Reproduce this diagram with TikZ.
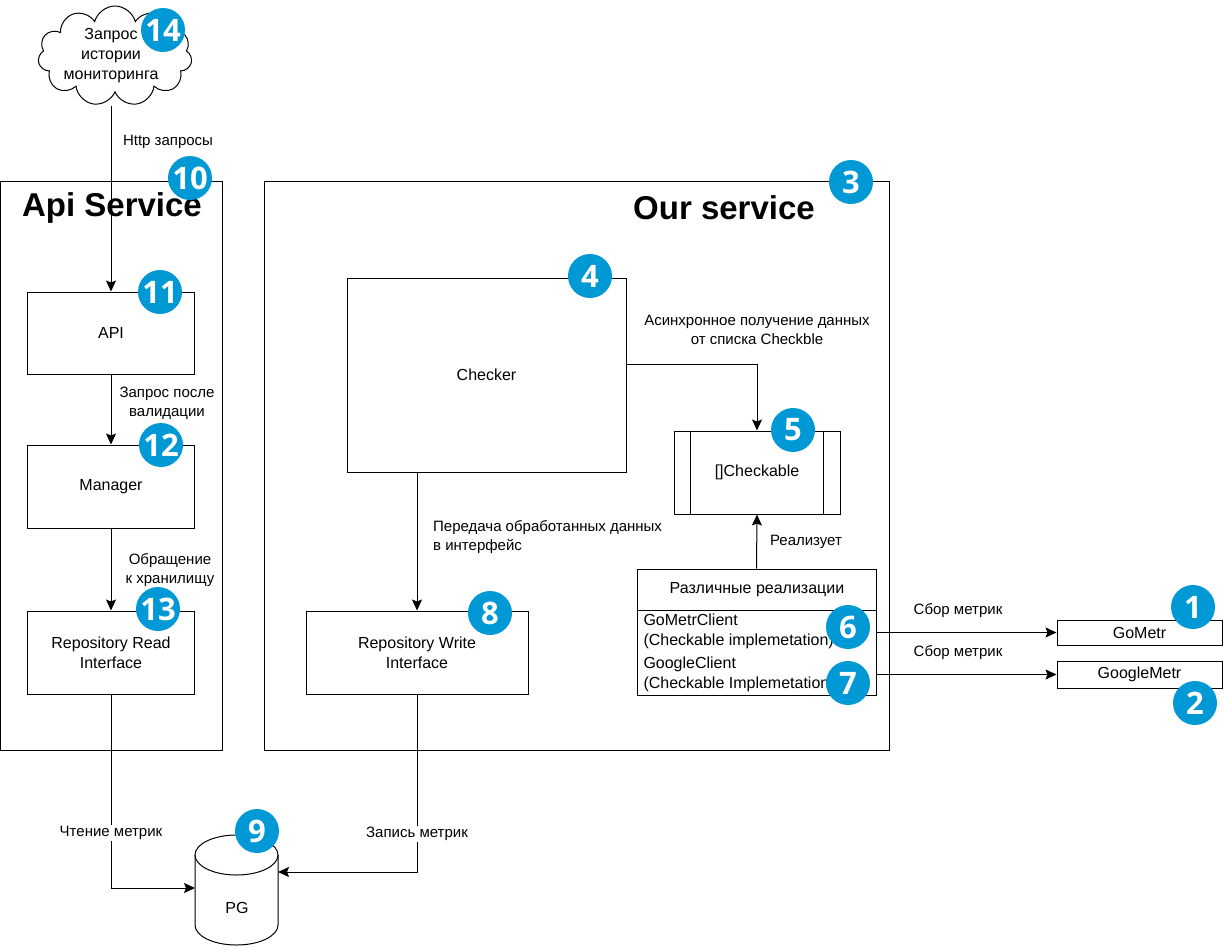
\documentclass[tikz,border=0pt]{standalone}
\usepackage{fontspec}
\setmainfont{Liberation Sans}
\newfontfamily\badgefont{Open Sans}
\usetikzlibrary{arrows.meta,shapes.symbols}
\definecolor{badgeblue}{RGB}{0,153,214}
\tikzset{
  box/.style={rectangle,draw,line width=1pt,inner sep=0pt,align=center,font=\fontsize{16}{20}\selectfont},
  title/.style={font=\bfseries\fontsize{33}{36}\selectfont},
  lbl/.style={align=center,inner sep=1pt,font=\fontsize{15}{19}\selectfont},
  onlbl/.style={lbl,fill=white},
  badge/.style={circle,fill=badgeblue,text=white,minimum size=44pt,inner sep=0pt,font=\badgefont\bfseries\fontsize{31}{31}\selectfont},
  flow/.style={line width=1pt,-{Stealth[length=11pt,width=10pt,inset=2pt]}},
}
\begin{document}
\begin{tikzpicture}[x=1pt,y=-1pt]
\useasboundingbox (0,0) rectangle (1224,946);
% containers
\node[box,minimum width=222pt,minimum height=569pt] (apisvc) at (111.5,465.5) {};
\node[title] (apititle) at (112,208) {Api Service};
\node[box,minimum width=625pt,minimum height=569pt] (oursvc) at (576.5,465.5) {};
\node[title] (ourtitle) at (724,208) {Our service};
% client
\node[cloud,draw,line width=1pt,cloud puffs=11,aspect=1.6,minimum width=154pt,minimum height=100pt] (cloud) at (115,56) {};
\node[box,draw=none] (cloudtxt) at (111,56) {Запрос\\истории\\мониторинга};
\coordinate (cloudout) at (111,106);
% api service
\node[box,minimum width=167pt,minimum height=82pt] (api) at (111,333) {API};
\node[box,minimum width=167pt,minimum height=83pt] (manager) at (111,486.5) {Manager};
\node[box,minimum width=167pt,minimum height=83pt] (reporead) at (111,652.5) {Repository Read\\Interface};
% our service
\node[box,minimum width=279pt,minimum height=194pt] (checker) at (486.5,375) {Checker};
\node[box,minimum width=166pt,minimum height=83pt] (checkable) at (757,472.5) {[]Checkable};
\draw[line width=1pt] ([xshift=17pt]checkable.north west) -- ([xshift=17pt]checkable.south west)
  ([xshift=-17pt]checkable.north east) -- ([xshift=-17pt]checkable.south east);
\node[box,minimum width=239pt,minimum height=126pt] (impls) at (756.5,632) {};
\draw[line width=1pt] ([yshift=-42pt]impls.north west) -- ([yshift=-42pt]impls.north east);
\node[box,draw=none] (implhead) at (757,590) {Различные реализации};
\node[box,draw=none,align=left,anchor=west] (goclient) at (643,631.5) {GoMetrClient\\(Checkable implemetation)};
\node[box,draw=none,align=left,anchor=west] (googleclient) at (643,674) {GoogleClient\\(Checkable Implemetation)};
\node[box,minimum width=222pt,minimum height=83pt] (repowrite) at (417,652.5) {Repository Write\\Interface};
% external metrics
\node[box,minimum width=165pt,minimum height=25pt] (gometr) at (1139.5,632.5) {GoMetr};
\node[box,minimum width=165pt,minimum height=27pt] (googlemetr) at (1139.5,674.5) {GoogleMetr};
% storage
\draw[line width=1pt] (195,855) -- (195,925) arc[start angle=180,end angle=360,x radius=41.5pt,y radius=20pt] -- (278,855);
\draw[line width=1pt] (236.5,855) ellipse[x radius=41.5pt,y radius=20pt];
\node[box,draw=none] (pg) at (237,908) {PG};
\coordinate (pgleft) at (195,888);
\coordinate (pgright) at (278,872);
% connectors
\draw[flow] (cloudout) -- (api.north);
\node[lbl] (httplbl) at (168,142) {Http запросы};
\draw[flow] (api) -- (manager);
\node[lbl] (vallbl) at (167,403) {Запрос после\\валидации};
\draw[flow] (manager) -- (reporead);
\node[lbl] (storelbl) at (170,570) {Обращение\\к хранилищу};
\draw[flow] ([yshift=11pt]checker.east) -| (checkable.north);
\node[lbl] (asynclbl) at (757,330) {Асинхронное получение данных\\от списка Checkble};
\draw[flow] (impls.north) -- (checkable.south);
\node[lbl] (impllbl) at (806,542) {Реализует};
\draw[flow] (checker.south -| repowrite) -- (repowrite.north);
\node[lbl,align=left,anchor=west] (passlbl) at (432,537) {Передача обработанных данных\\в интерфейс};
\draw[flow] (impls.east |- gometr) -- (gometr.west);
\node[lbl] (collect1) at (958,611) {Сбор метрик};
\draw[flow] (impls.east |- googlemetr) -- (googlemetr.west);
\node[lbl] (collect2) at (958,653) {Сбор метрик};
\draw[flow] (reporead.south) |- (pgleft);
\node[onlbl] (readlbl) at (111,833) {Чтение метрик};
\draw[flow] (repowrite.south) |- (pgright);
\node[onlbl] (writelbl) at (417,834) {Запись метрик};
% badges
\node[badge] (b1) at (1193,607) {1};
\node[badge] (b2) at (1195,703) {2};
\node[badge] (b3) at (851,182) {3};
\node[badge] (b4) at (590,276) {4};
\node[badge] (b5) at (793,430) {5};
\node[badge] (b6) at (848,627) {6};
\node[badge] (b7) at (848,683) {7};
\node[badge] (b8) at (490,613) {8};
\node[badge] (b9) at (257,831) {9};
\node[badge] (b10) at (190,178) {10};
\node[badge] (b11) at (160,292) {11};
\node[badge] (b12) at (161,445) {12};
\node[badge] (b13) at (158,609) {13};
\node[badge] (b14) at (163,30) {14};
\end{tikzpicture}
\end{document}
